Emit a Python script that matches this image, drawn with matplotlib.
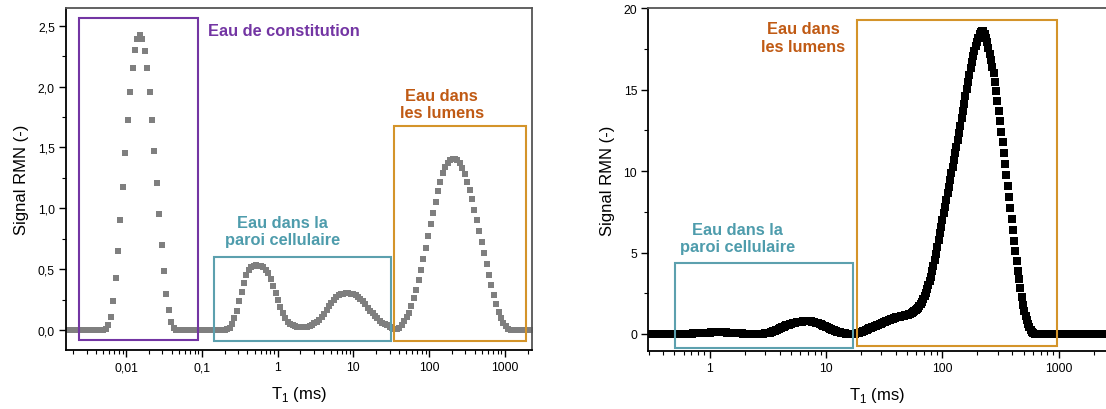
import numpy as np
import matplotlib.pyplot as plt
from matplotlib.patches import Rectangle
from matplotlib.ticker import LogLocator, NullFormatter, MultipleLocator

plt.rcParams['font.family'] = ['Liberation Sans', 'DejaVu Sans']
plt.rcParams['mathtext.fontset'] = 'custom'
plt.rcParams['mathtext.rm'] = 'Liberation Sans'

# ---- left sample: log-spaced T1 grid (log10 start, step) and signal ----
left_log_start = -2.779
left_log_step = 0.032
signal_left = [
    0, 0, 0, 0, 0, 0, 0, 0, 0, 0,
    0, 0, 0, 0, 0, 0, 0.01, 0.041, 0.109, 0.241,
    0.425, 0.652, 0.901, 1.178, 1.457, 1.723, 1.958, 2.15, 2.30, 2.39,
    2.42, 2.39, 2.295, 2.15, 1.958, 1.728, 1.473, 1.21, 0.951, 0.70,
    0.485, 0.30, 0.164, 0.063, 0.015, 0, 0, 0, 0, 0,
    0, 0, 0, 0, 0, 0, 0, 0, 0, 0,
    0, 0, 0, 0, 0, 0,
    0.005, 0.02, 0.05, 0.10, 0.16, 0.235, 0.315, 0.39, 0.45, 0.49,
    0.515, 0.527, 0.532, 0.53, 0.525, 0.515, 0.495, 0.465, 0.42, 0.365,
    0.305, 0.245, 0.19, 0.14, 0.10, 0.07, 0.05, 0.04, 0.032, 0.028,
    0.025, 0.022, 0.022, 0.025, 0.03, 0.04, 0.055, 0.065, 0.085, 0.11,
    0.135, 0.165, 0.195, 0.22, 0.245, 0.27, 0.285, 0.295, 0.30, 0.303,
    0.303, 0.30, 0.295, 0.285, 0.27, 0.255, 0.235, 0.21, 0.185, 0.16,
    0.14, 0.115, 0.095, 0.078, 0.06, 0.048, 0.038, 0.028, 0.018, 0.01,
    0.006, 0.015, 0.045, 0.075, 0.105, 0.14, 0.20, 0.26, 0.33, 0.41,
    0.495, 0.58, 0.675, 0.77, 0.87, 0.96, 1.05, 1.14, 1.22, 1.29,
    1.34, 1.375, 1.395, 1.405, 1.405, 1.395, 1.37, 1.33, 1.28, 1.22,
    1.15, 1.08, 0.99, 0.90, 0.81, 0.72, 0.63, 0.545, 0.45, 0.37,
    0.29, 0.215, 0.15, 0.10, 0.06, 0.03, 0.012, 0.003, 0, 0,
    0, 0, 0, 0, 0, 0,
]

# ---- right sample ----
right_log_start = -0.55
right_log_step = 0.011
signal_right = [
    0, 0, 0, 0, 0, 0, 0, 0, 0, 0, 0, 0, 0, 0, 0, 0,
    0, 0, 0, 0, 0, 0, 0, 0, 0, 0, 0, 0, 0, 0, 0, 0,
    0.005, 0.01, 0.015,
    0.02, 0.025, 0.03, 0.035, 0.04, 0.045, 0.05, 0.055, 0.06, 0.065,
    0.07, 0.075, 0.078, 0.08, 0.083, 0.086, 0.089, 0.092, 0.094, 0.096,
    0.098, 0.099, 0.1, 0.1, 0.1, 0.099, 0.097, 0.094, 0.09, 0.086,
    0.081, 0.076, 0.07, 0.064, 0.058, 0.052, 0.046, 0.041, 0.036, 0.032,
    0.028, 0.025, 0.022, 0.02, 0.02, 0.02, 0.02, 0.02, 0.02, 0.02,
    0.02, 0.02, 0.02, 0.02, 0.02, 0.02, 0.022, 0.025, 0.03, 0.035,
    0.045, 0.06, 0.08, 0.1, 0.125, 0.155, 0.19, 0.23, 0.27, 0.31,
    0.355, 0.39, 0.42, 0.455, 0.49, 0.52, 0.55, 0.575, 0.6, 0.625,
    0.65, 0.67, 0.69, 0.705, 0.72, 0.735, 0.745, 0.755, 0.765, 0.77,
    0.775, 0.78, 0.78, 0.775, 0.77, 0.76, 0.745, 0.725, 0.7, 0.675,
    0.645, 0.615, 0.58, 0.545, 0.505, 0.47, 0.435, 0.4, 0.365, 0.33,
    0.295, 0.26, 0.23, 0.2, 0.17, 0.145, 0.12, 0.1, 0.08, 0.065,
    0.05, 0.035, 0.025, 0.015, 0.01, 0.005, 0.005, 0.005, 0.01, 0.02,
    0.035, 0.055, 0.08, 0.105, 0.135, 0.165, 0.195, 0.23, 0.265, 0.3,
    0.335, 0.37, 0.4, 0.43, 0.465, 0.5, 0.535, 0.57, 0.605, 0.64,
    0.675, 0.71, 0.745, 0.78, 0.82, 0.85, 0.88, 0.91, 0.94, 0.965,
    0.99, 1.01, 1.03, 1.05, 1.07, 1.09, 1.11, 1.13, 1.15, 1.17,
    1.19, 1.22, 1.25, 1.29, 1.34, 1.38, 1.45, 1.53, 1.62, 1.72,
    1.84, 1.98, 2.14, 2.32, 2.52, 2.74, 2.98, 3.24, 3.52, 3.85,
    4.2, 4.56, 4.93, 5.32, 5.75, 6.17, 6.58, 6.99, 7.4, 7.82,
    8.23, 8.64, 9.05, 9.46, 9.87, 10.28, 10.69, 11.1, 11.51, 11.93,
    12.35, 12.8, 13.25, 13.7, 14.15, 14.62, 15.07, 15.5, 15.92, 16.32,
    16.7, 17.05, 17.38, 17.68, 17.95, 18.2, 18.4, 18.55, 18.62, 18.6,
    18.45, 18.2, 17.9, 17.55, 17.2, 16.8, 16.4, 16.0, 15.5, 14.94,
    14.33, 13.72, 13.1, 12.43, 11.78, 11.1, 10.44, 9.77, 9.11, 8.4,
    7.72, 7.06, 6.41, 5.73, 5.08, 4.47, 3.89, 3.38, 2.8, 2.25,
    1.8, 1.42, 1.1, 0.85, 0.62, 0.42, 0.25, 0.12, 0.05, 0.02,
    0.005, 0, 0, 0, 0, 0, 0, 0, 0, 0,
    0, 0, 0, 0, 0, 0, 0, 0, 0, 0, 0, 0, 0, 0, 0, 0,
    0, 0, 0, 0, 0, 0, 0, 0, 0, 0, 0, 0, 0, 0, 0, 0,
    0, 0, 0, 0, 0, 0, 0, 0, 0, 0, 0, 0, 0, 0, 0, 0,
    0,
]

xticks_left = [0.01, 0.1, 1, 10, 100, 1000]
xticklabels_left = ['0,01', '0,1', '1', '10', '100', '1000']
yticks_left = [0, 0.5, 1.0, 1.5, 2.0, 2.5]
yticklabels_left = ['0,0', '0,5', '1,0', '1,5', '2,0', '2,5']
xticks_right = [1, 10, 100, 1000]
xticklabels_right = ['1', '10', '100', '1000']
yticks_right = [0, 5, 10, 15, 20]

# regions (T1 min, T1 max, y min, y max)
box_constitution_left = (0.00242, 0.0877, -0.082, 2.561)
box_paroi_left = (0.143, 31.2, -0.088, 0.602)
box_lumens_left = (34.5, 1893, -0.088, 1.679)
box_paroi_right = (0.507, 17.1, -0.86, 4.34)
box_lumens_right = (18.7, 969, -0.72, 19.28)

purple = '#7335A3'
teal_text = '#4E9CAC'
teal_box = '#5CA0AE'
orange_text = '#C05A14'
orange_box = '#D4942A'

t1_left = 10 ** (left_log_start + left_log_step * np.arange(len(signal_left)))
t1_right = 10 ** (right_log_start + right_log_step * np.arange(len(signal_right)))

fig = plt.figure(figsize=(11.06, 4.10), dpi=100)
ax1 = fig.add_axes([0.0597, 0.1439, 0.4210, 0.8334])
ax2 = fig.add_axes([0.5862, 0.1422, 0.4140, 0.8351])


def add_box(ax, box, color):
    x0, x1, y0, y1 = box
    ax.add_patch(Rectangle((x0, y0), x1 - x0, y1 - y0, fill=False,
                           edgecolor=color, linewidth=1.5, zorder=3))


def style_axis(ax):
    ax.set_xscale('log')
    ax.xaxis.set_minor_locator(LogLocator(base=10, subs=np.arange(2, 10), numticks=100))
    ax.xaxis.set_minor_formatter(NullFormatter())
    ax.tick_params(which='major', direction='out', length=5, width=1,
                   labelsize=8.8, pad=3, top=False, right=False)
    ax.tick_params(which='minor', direction='out', length=3, width=0.8,
                   top=False, right=False)
    ax.spines['left'].set_color('black')
    ax.spines['bottom'].set_color('black')
    ax.spines['top'].set_color('#555555')
    ax.spines['right'].set_color('#555555')
    for s in ax.spines.values():
        s.set_linewidth(1.3)
    ax.set_xlabel(r'T$_1$ (ms)', fontsize=12, labelpad=8)
    ax.set_ylabel('Signal RMN (-)', fontsize=12, labelpad=6)


# left chart
ax1.plot(t1_left, signal_left, 's', color='#7f7f7f', markersize=4.9,
         markeredgewidth=0, zorder=2)
style_axis(ax1)
ax1.set_xlim(0.00161, 2254)
ax1.set_ylim(-0.164, 2.643)
ax1.set_xticks(xticks_left)
ax1.set_xticklabels(xticklabels_left)
ax1.set_yticks(yticks_left)
ax1.set_yticklabels(yticklabels_left)
ax1.yaxis.set_minor_locator(MultipleLocator(0.25))

add_box(ax1, box_constitution_left, purple)
add_box(ax1, box_paroi_left, teal_box)
add_box(ax1, box_lumens_left, orange_box)
ax1.text(0.121, 2.457, 'Eau de constitution', color=purple, fontsize=11.8,
         fontweight='bold', ha='left', va='center')
ax1.text(1.15, 0.813, 'Eau dans la\nparoi cellulaire', color=teal_text,
         fontsize=11.8, fontweight='bold', ha='center', va='center',
         linespacing=1.2)
ax1.text(147, 1.857, 'Eau dans\nles lumens', color=orange_text, fontsize=11.8,
         fontweight='bold', ha='center', va='center', linespacing=1.2)

# right chart
ax2.plot(t1_right, signal_right, 's', color='black', markersize=5.6,
         markeredgewidth=0, zorder=2)
style_axis(ax2)
ax2.spines['right'].set_visible(False)
ax2.set_xlim(0.298, 2570)
ax2.set_ylim(-1.03, 20)
ax2.set_xticks(xticks_right)
ax2.set_xticklabels(xticklabels_right)
ax2.set_yticks(yticks_right)
ax2.yaxis.set_minor_locator(MultipleLocator(2.5))

add_box(ax2, box_paroi_right, teal_box)
add_box(ax2, box_lumens_right, orange_box)
ax2.text(1.755, 5.9, 'Eau dans la\nparoi cellulaire', color=teal_text,
         fontsize=11.8, fontweight='bold', ha='center', va='center',
         linespacing=1.2)
ax2.text(6.36, 18.21, 'Eau dans\nles lumens', color=orange_text, fontsize=11.8,
         fontweight='bold', ha='center', va='center', linespacing=1.2)

fig.savefig('out.png', dpi=100, facecolor='white')
